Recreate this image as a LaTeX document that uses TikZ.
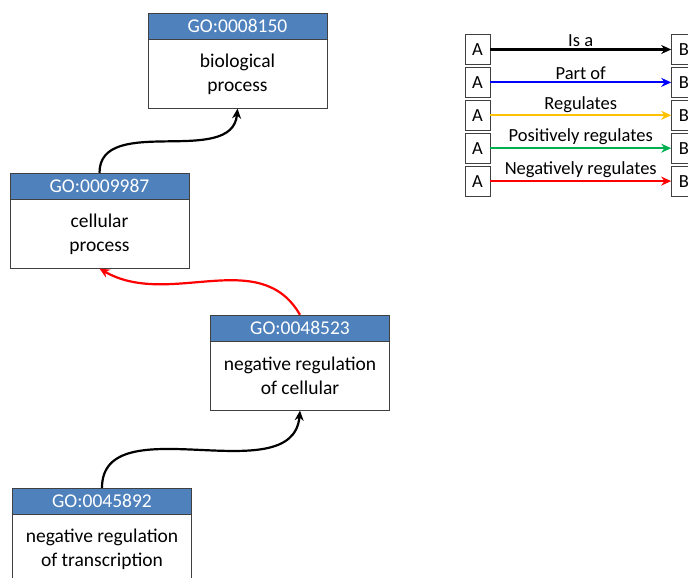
\documentclass[tikz,border=0pt]{standalone}
\usepackage{fontspec}
\setmainfont{Carlito}
\usepackage{tikz}
\usetikzlibrary{positioning}
\usetikzlibrary{arrows.meta}

\definecolor{gohead}{RGB}{79,129,189}
\definecolor{regyellow}{RGB}{255,192,0}
\definecolor{posgreen}{RGB}{0,176,80}

\begin{document}
\begin{tikzpicture}[x=1pt, y=1pt, font=\fontsize{19.5}{24}\selectfont,
    head/.style = {draw=black!75, fill=gohead, text=white, minimum width=179pt, minimum height=26pt, inner sep=0pt},
    term/.style = {draw=black!75, minimum width=179pt, minimum height=69pt, align=center, inner sep=0pt},
    box/.style = {draw=black!75, minimum width=25pt, minimum height=30pt, inner sep=0pt, font=\fontsize{18.5}{22}\selectfont},
    rel/.style = {line width=2.2pt, -{Stealth[length=10pt,width=9pt]}},
    lbl/.style = {above=1pt, inner sep=1pt, font=\fontsize{18.5}{22}\selectfont}]
    \useasboundingbox (0,0) rectangle (688,578);
    % GO terms
    \node[head](h1) at (237.5,552) {GO:0008150};
    \node[term](t1)[below=0pt of h1]{biological\\process};
    \node[head](h2) at (99.5,392) {GO:0009987};
    \node[term](t2)[below=0pt of h2]{cellular\\process};
    \node[head](h3) at (300,250) {GO:0048523};
    \node[term](t3)[below=0pt of h3]{negative regulation\\of cellular};
    \node[head](h4) at (102,77) {GO:0045892};
    \node[term, minimum height=70pt](t4)[below=0pt of h4]{negative regulation\\of transcription};
    \draw[rel] (h2.north) to[out=90, in=-95] (t1.south);
    \draw[rel, red] (h3.north) to[out=120, in=-30] (t2.south);
    \draw[rel] (h4.north) to[out=90, in=-95] (t3.south);
    % legend
    \node[box](a1) at (477.5,528.5) {A};
    \node[box](a2)[below=2.5pt of a1]{A};
    \node[box](a3)[below=2.5pt of a2]{A};
    \node[box](a4)[below=2.5pt of a3]{A};
    \node[box](a5)[below=2.5pt of a4]{A};
    \node[box](b1)[right=181pt of a1]{B};
    \node[box](b2)[right=181pt of a2]{B};
    \node[box](b3)[right=181pt of a3]{B};
    \node[box](b4)[right=181pt of a4]{B};
    \node[box](b5)[right=181pt of a5]{B};
    \draw[rel] (a1) -- node[lbl]{Is a} (b1);
    \draw[rel, blue] (a2) -- node[lbl, text=black]{Part of} (b2);
    \draw[rel, regyellow] (a3) -- node[lbl, text=black]{Regulates} (b3);
    \draw[rel, posgreen] (a4) -- node[lbl, text=black]{Positively regulates} (b4);
    \draw[rel, red] (a5) -- node[lbl, text=black]{Negatively regulates} (b5);
  \end{tikzpicture}
\end{document}
